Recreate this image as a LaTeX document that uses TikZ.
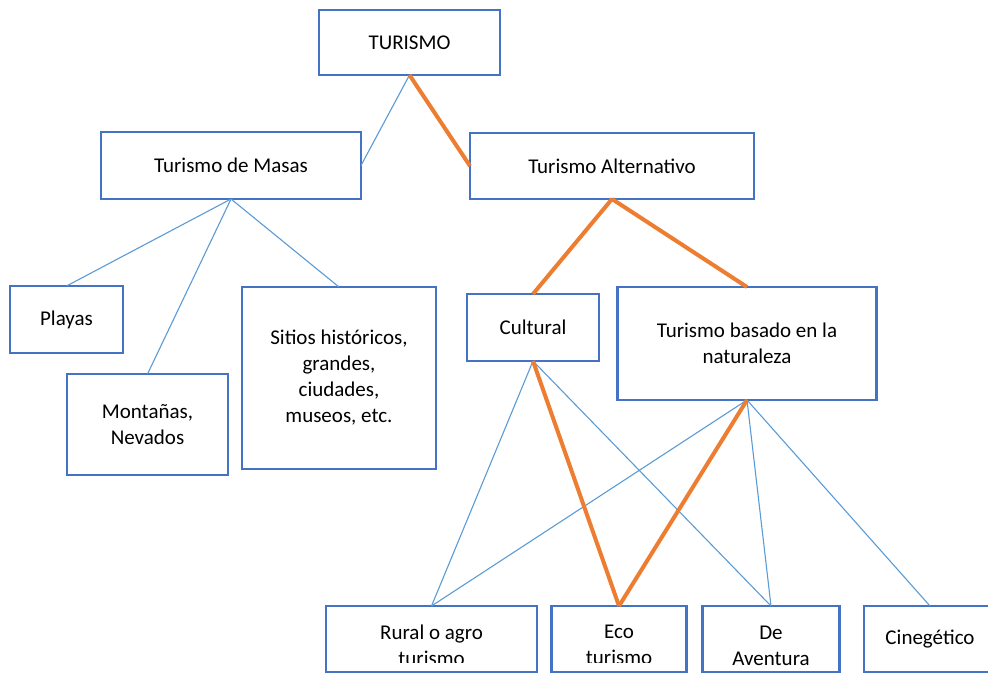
\documentclass[tikz,border=0pt]{standalone}
\usepackage{fontspec}
\setmainfont{Carlito}
\definecolor{boxblue}{HTML}{4472C4}
\definecolor{linkblue}{HTML}{5B9BD5}
\definecolor{linkorange}{HTML}{ED7D31}
\begin{document}
\begin{tikzpicture}[x=1pt,y=-1pt,
  box/.style={draw=boxblue, line width=2.6pt, fill=white, inner sep=0pt, outer sep=0pt,
    align=center, font=\fontsize{21}{26}\selectfont, text=black},
  boxtext/.style={inner sep=0pt, align=center, font=\fontsize{21}{26}\selectfont, text=black},
  thin/.style={draw=linkblue, line width=1.1pt},
  thick/.style={draw=linkorange, line width=4pt}]
\useasboundingbox (0,0) rectangle (988,673);
\clip (0,0) rectangle (988,673);
% top level
\node[box, minimum width=181pt, minimum height=65pt] (tur) at (409.5,42.5) {TURISMO};
% second level
\node[box, minimum width=260pt, minimum height=67pt] (masas) at (231,165.5) {Turismo de Masas};
\node[box, minimum width=284pt, minimum height=66pt] (alt) at (612,166) {Turismo Alternativo};
% mass tourism branch
\node[box, minimum width=113pt, minimum height=67pt] (playas) at (66.5,319.5) {Playas};
\node[box, minimum width=161pt, minimum height=101pt] (mont) at (147.5,424.5) {Montañas,\\Nevados};
\node[box, minimum width=194pt, minimum height=182pt] (sitios) at (339,378) {Sitios históricos,\\grandes,\\ciudades,\\museos, etc.};
% alternative tourism branch
\node[box, minimum width=132pt, minimum height=67pt] (cult) at (533,327.5) {Cultural};
\node[box, minimum width=259pt, minimum height=113pt] (nat) at (747,343.5) {Turismo basado en la\\naturaleza};
% bottom row: frames first, then their (overflowing) text
\node[box, minimum width=211pt, minimum height=66pt] (rural) at (431.5,639) {};
\node[box, minimum width=135pt, minimum height=66pt] (eco) at (619,639) {};
\node[box, minimum width=137pt, minimum height=66pt] (avent) at (771,639) {};
\node[box, minimum width=132pt, minimum height=66pt] (cine) at (930,639) {Cinegético};
\begin{scope}
  \clip (300,600) rectangle (700,662);
  \node[boxtext] (ruraltext) at (431.5,645.5) {Rural o agro\\turismo};
  \node[boxtext] (ecotext) at (619,645) {Eco\\turismo};
\end{scope}
\node[boxtext] (aventtext) at (771,645.5) {De\\Aventura};
% thin connectors
\draw[thin] (tur.south) -- (masas.east);
\draw[thin] (masas.south) -- (playas.north);
\draw[thin] (masas.south) -- (mont.north);
\draw[thin] (masas.south) -- (sitios.north);
\draw[thin] (cult.south) -- (rural.north);
\draw[thin] (cult.south) -- (avent.north);
\draw[thin] (nat.south) -- (rural.north);
\draw[thin] (nat.south) -- (avent.north);
\draw[thin] (nat.south) -- (cine.north);
% highlighted path
\draw[thick] (tur.south) -- (alt.west);
\draw[thick] (alt.south) -- (cult.north);
\draw[thick] (alt.south) -- (nat.north);
\draw[thick] (cult.south) -- (eco.north);
\draw[thick] (nat.south) -- (eco.north);
\end{tikzpicture}
\end{document}
